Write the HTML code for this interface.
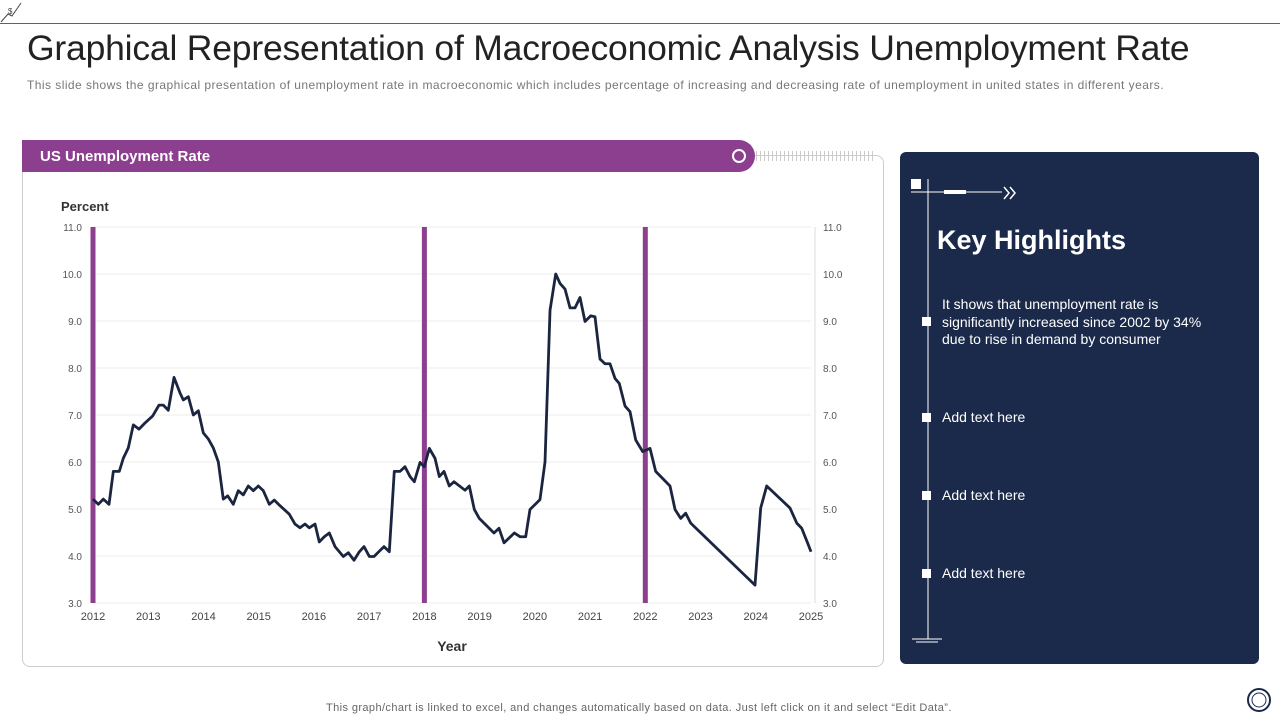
<!DOCTYPE html>
<html><head><meta charset="utf-8"><style>
body{margin:0;width:1280px;height:720px;background:#fff;font-family:"Liberation Sans",sans-serif;position:relative;overflow:hidden}
.abs{position:absolute}
</style></head><body>
<svg class="abs" style="left:0;top:0" width="30" height="26"><path d="M1 22 L8 14 L12 16 L21 3" stroke="#444" fill="none" stroke-width="1"/><text x="8" y="14" font-size="8" fill="#444">$</text></svg>
<div class="abs" style="left:0;top:23px;width:1280px;height:1px;background:#6b5a73"></div>
<div class="abs" style="left:27px;top:28px;font-size:35.5px;color:#222;white-space:nowrap;letter-spacing:-0.2px">Graphical Representation of Macroeconomic Analysis Unemployment Rate</div>
<div class="abs" style="left:27px;top:78px;font-size:12px;color:#777;white-space:nowrap;letter-spacing:0.45px">This slide shows the graphical presentation of unemployment rate in macroeconomic which includes percentage of increasing and decreasing rate of unemployment in united states in different years.</div>
<div class="abs" style="left:22px;top:155px;width:860px;height:510px;border:1px solid #ccc;border-radius:8px"></div>
<div class="abs" style="left:756px;top:151px;width:120px;height:10px;background:repeating-linear-gradient(90deg,#ccc 0 1px,transparent 1px 4px)"></div>
<div class="abs" style="left:22px;top:140px;width:733px;height:32px;background:#8b3f8e;border-radius:0 16px 16px 0"><span style="position:absolute;left:18px;top:8px;color:#fff;font-weight:bold;font-size:15px">US Unemployment Rate</span><span style="position:absolute;left:710px;top:9px;width:10px;height:10px;border:2px solid #fff;border-radius:50%"></span></div>
<svg class="abs" style="left:0;top:0" width="900" height="680" id="chart"></svg>
<div class="abs" style="left:900px;top:152px;width:359px;height:512px;background:#1b2a4a;border-radius:6px"></div>
<svg class="abs" style="left:900px;top:152px" width="359" height="512">
<rect x="11" y="27" width="10" height="10" fill="#fff"/>
<line x1="28" y1="27" x2="28" y2="487" stroke="#fff" stroke-width="1"/>
<line x1="11" y1="40" x2="102" y2="40" stroke="#fff" stroke-width="1"/>
<rect x="44" y="38" width="22" height="4" fill="#fff"/>
<path d="M104 35 L109 41 L104 47 M110 35 L115 41 L110 47" stroke="#fff" fill="none" stroke-width="1.5"/>
<line x1="12" y1="487" x2="42" y2="487" stroke="#fff"/><line x1="16" y1="490" x2="38" y2="490" stroke="#fff"/>
<rect x="22" y="165" width="9" height="9" fill="#fff"/><rect x="22" y="261" width="9" height="9" fill="#fff"/><rect x="22" y="339" width="9" height="9" fill="#fff"/><rect x="22" y="417" width="9" height="9" fill="#fff"/>
</svg>
<div class="abs" style="left:937px;top:225px;color:#fff;font-weight:bold;font-size:27px">Key Highlights</div>
<div class="abs" style="left:942px;top:296px;color:#fff;font-size:14px;line-height:17.5px;width:278px">It shows that unemployment rate is significantly increased since 2002 by 34% due to rise in demand by consumer</div>
<div class="abs" style="left:942px;top:409px;color:#fff;font-size:14px">Add text here</div>
<div class="abs" style="left:942px;top:487px;color:#fff;font-size:14px">Add text here</div>
<div class="abs" style="left:942px;top:565px;color:#fff;font-size:14px">Add text here</div>
<div class="abs" style="left:326px;top:702px;font-size:11px;color:#666;white-space:nowrap;letter-spacing:0.4px">This graph/chart is linked to excel,  and changes automatically based on data. Just left click on it and select “Edit Data”.</div>
<svg class="abs" style="left:1246px;top:687px" width="28" height="28"><circle cx="13" cy="13" r="11" fill="none" stroke="#1b2a4a" stroke-width="2"/><circle cx="13" cy="13" r="7" fill="none" stroke="#1b2a4a" stroke-width="1"/></svg>
<script>
const years=[0,0.096,0.187,0.29,0.368,0.476,0.549,0.639,0.73,0.833,0.941,1.081,1.195,1.273,1.363,1.467,1.575,1.635,1.726,1.816,1.907,1.997,2.088,2.178,2.269,2.359,2.439,2.54,2.631,2.721,2.812,2.902,2.993,3.083,3.192,3.283,3.386,3.554,3.657,3.747,3.839,3.916,4.02,4.097,4.188,4.278,4.382,4.532,4.623,4.726,4.822,4.907,5.003,5.088,5.269,5.365,5.455,5.559,5.649,5.74,5.818,5.921,5.999,6.089,6.192,6.27,6.355,6.451,6.536,6.735,6.813,6.904,6.994,7.26,7.351,7.442,7.628,7.731,7.834,7.912,8.093,8.184,8.275,8.378,8.456,8.546,8.637,8.727,8.818,8.908,9.011,9.089,9.18,9.27,9.361,9.451,9.529,9.633,9.723,9.826,9.953,10.085,10.188,10.447,10.538,10.641,10.731,10.822,11.986,12.089,12.198,12.62,12.742,12.832,12.941,13.0];
const rates=[5.21,5.1,5.21,5.1,5.8,5.8,6.08,6.3,6.79,6.7,6.83,6.98,7.21,7.21,7.1,7.8,7.47,7.32,7.39,7.0,7.09,6.62,6.49,6.3,6.0,5.21,5.28,5.1,5.39,5.3,5.49,5.39,5.49,5.39,5.1,5.19,5.07,4.89,4.68,4.6,4.68,4.6,4.68,4.3,4.41,4.49,4.2,3.99,4.07,3.91,4.09,4.2,3.99,3.99,4.2,4.09,5.8,5.8,5.9,5.69,5.58,5.99,5.9,6.29,6.08,5.69,5.8,5.49,5.58,5.4,5.49,4.99,4.8,4.49,4.59,4.28,4.49,4.41,4.41,4.99,5.2,6.0,9.23,10.0,9.8,9.68,9.28,9.28,9.5,8.99,9.11,9.09,8.19,8.09,8.09,7.78,7.67,7.19,7.07,6.47,6.22,6.29,5.8,5.49,4.99,4.8,4.91,4.7,3.38,5.02,5.49,5.02,4.7,4.59,4.27,4.09];
const markerYears=[2012,2018,2022];
const yTicks=["3.0","4.0","5.0","6.0","7.0","8.0","9.0","10.0","11.0"];
const xTicks=["2012","2013","2014","2015","2016","2017","2018","2019","2020","2021","2022","2023","2024","2025"];
const NS="http://www.w3.org/2000/svg",svg=document.getElementById('chart');
const L=93,R=811,T=227,B=603;
const xs=y=>L+(y-2012)/13*(R-L), ys=v=>B-(v-3)/8*(B-T);
function el(t,a,txt){const e=document.createElementNS(NS,t);for(const k in a)e.setAttribute(k,a[k]);if(txt!==undefined)e.textContent=txt;svg.appendChild(e);return e;}
yTicks.forEach(t=>{const y=ys(+t);
const g=el('line',{x1:L,x2:R,y1:y,y2:y,stroke:'#eee'});


const a=el('text',{x:82,y:y+4,'font-size':10,fill:'#555','text-anchor':'end'},t);


const b=el('text',{x:823,y:y+4,'font-size':10,fill:'#555'},t);

});
const ra=el('line',{x1:815,x2:815,y1:T,y2:B,stroke:'#ddd'});


xTicks.forEach(t=>{const a=el('text',{x:xs(+t),y:620,'font-size':11,fill:'#444','text-anchor':'middle'},t);

});
markerYears.forEach(m=>{const r=el('rect',{x:xs(m)-2.5,y:T,width:5,height:B-T,fill:'#8b3f8e'});

});
const p=el('polyline',{points:years.map((y,i)=>xs(2012+y)+','+ys(rates[i])).join(' '),fill:'none',stroke:'#1b2540','stroke-width':2.8,'stroke-linejoin':'round'});


const yt=el('text',{x:61,y:211,'font-size':13,'font-weight':'bold',fill:'#333'},'Percent');


const xt=el('text',{x:452,y:651,'font-size':14,'font-weight':'bold',fill:'#333','text-anchor':'middle'},'Year');


</script>
</body></html>
